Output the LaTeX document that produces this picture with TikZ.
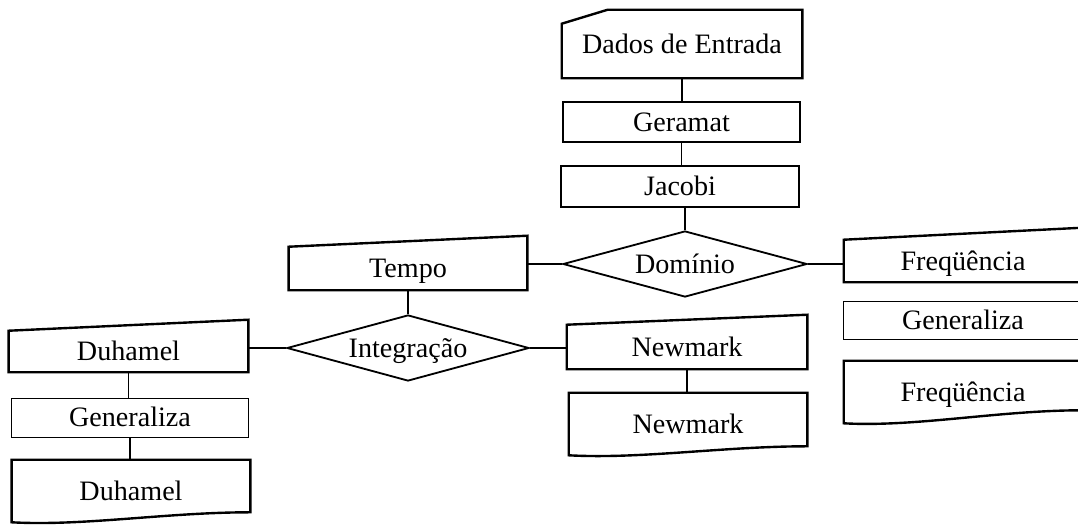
\documentclass[tikz,border=0pt]{standalone}
\usepackage{fontspec}
\setmainfont{Liberation Serif}
\usetikzlibrary{calc,shapes.geometric}

% outlines drawn round the named text nodes
\newcommand{\inputshape}[2]{%
  \draw[outline] (#1.south west) -- (#1.north west) -- ($(#1.north east)+(0,-#2)$) -- (#1.south east) -- cycle;}
\newcommand{\docshape}[2]{%
  \draw[outline] (#1.south west) -- (#1.north west) -- (#1.north east) -- ($(#1.south east)+(0,-#2)$)
    .. controls ($(#1.south east)!0.35!(#1.south west)+(0,-#2)$) and ($(#1.south west)!0.3!(#1.south east)+(0,4)$) .. (#1.south west) -- cycle;}
\newcommand{\cardshape}[1]{%
  \draw[outline] (#1.south west) -- ($(#1.north west)+(0,14)$) -- ($(#1.north west)+(46,0)$) -- (#1.north east) -- (#1.south east) -- cycle;}

\begin{document}
\begin{tikzpicture}[
    x=0.025cm,y=-0.025cm,
    txt/.style={inner sep=0pt,align=center,text height=13pt,text depth=0pt,font=\fontsize{20}{23}\selectfont},
    plainbox/.style={txt,draw,line width=1.2pt},
    genbox/.style={txt,draw,line width=0.7pt},
    decision/.style={txt,diamond,draw,line width=1.3pt,shape aspect=3.6},
    outline/.style={line width=1.7pt,line join=miter},
    link/.style={line width=0.9pt}
  ]
    \clip (0,0) rectangle (1078,527);
    \fill[white] (0,0) rectangle (1078,527);
    % centre column
    \node[txt,minimum width=6cm,minimum height=1.7cm] (dados) at (682,44) {Dados de Entrada};
    \node[plainbox,minimum width=5.925cm,minimum height=1cm] (geramat) at (681.5,122) {Geramat};
    \node[plainbox,minimum width=5.95cm,minimum height=1.025cm] (jacobi) at (680,186.5) {Jacobi};
    \node[decision,minimum width=6.1cm,minimum height=1.65cm] (dominio) at (685,264) {Domínio};
    % time branch
    \node[txt,minimum width=5.95cm,minimum height=1.075cm] (tempo) at (408,268.5) {Tempo};
    \node[decision,minimum width=6.05cm,minimum height=1.65cm] (integ) at (408,348) {Integração};
    \node[txt,minimum width=5.975cm,minimum height=1.025cm] (duh1) at (128.5,351.5) {Duhamel};
    \node[genbox,minimum width=5.9cm,minimum height=0.975cm] (gen1) at (130,417.5) {Generaliza};
    \node[txt,minimum width=5.95cm,minimum height=1.55cm] (duh2) at (131,491) {Duhamel};
    \node[txt,minimum width=6cm,minimum height=1.1cm] (nmk1) at (687,347) {Newmark};
    \node[txt,minimum width=5.95cm,minimum height=1.55cm] (nmk2) at (688,424) {Newmark};
    % frequency branch
    \node[txt,minimum width=5.95cm,minimum height=1.05cm] (freq1) at (963,261) {Freqüência};
    \node[genbox,minimum width=5.95cm,minimum height=0.95cm] (gen2) at (963,320) {Generaliza};
    \node[txt,minimum width=5.95cm,minimum height=1.55cm] (freq2) at (963,392) {Freqüência};
    % outlines
    \cardshape{dados}
    \inputshape{tempo}{11}
    \inputshape{duh1}{11}
    \inputshape{nmk1}{10}
    \inputshape{freq1}{12}
    \docshape{duh2}{10}
    \docshape{nmk2}{9}
    \docshape{freq2}{13}
    % connectors
    \draw[link] (dados.south) -- (dados.south |- geramat.north);
    \draw[link] (geramat.south) -- (geramat.south |- jacobi.north);
    \draw[link] (dominio.north |- jacobi.south) -- (dominio.north);
    \draw[link] (dominio.west) -- (dominio.west -| tempo.east);
    \draw[link] (dominio.east) -- (dominio.east -| freq1.west);
    \draw[link] (tempo.south) -- (integ.north);
    \draw[link] (integ.west) -- (integ.west -| duh1.east);
    \draw[link] (integ.east) -- (integ.east -| nmk1.west);
    \draw[link] (duh1.south) -- (duh1.south |- gen1.north);
    \draw[link] (gen1.south) -- (gen1.south |- duh2.north);
    \draw[link] (nmk1.south) -- (nmk1.south |- nmk2.north);
  \end{tikzpicture}
\end{document}
